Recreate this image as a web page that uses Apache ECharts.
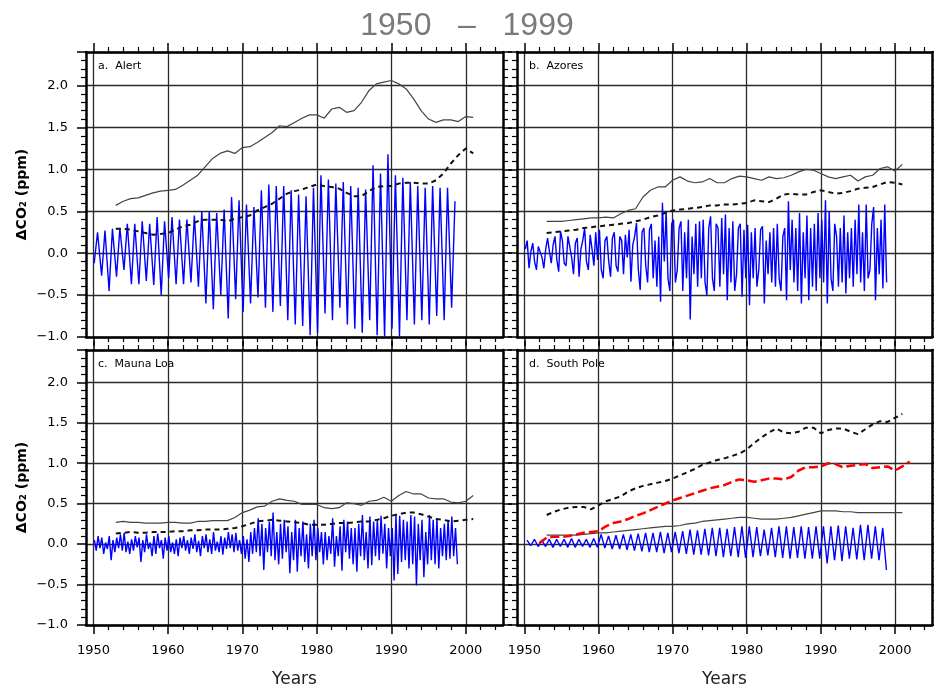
<!DOCTYPE html>
<html><head><meta charset="utf-8">
<script src="https://cdn.jsdelivr.net/npm/echarts@6/dist/echarts.min.js"></script>
<style>html,body{margin:0;padding:0;background:#fff}#c{width:934px;height:689px}</style>
</head><body><div id="c"></div>
<script>
// ---------- DATA ----------
const xTickYears = [1950, 1960, 1970, 1980, 1990, 2000];
const panelLabels = ['a.  Alert', 'b.  Azores', 'c.  Mauna Loa', 'd.  South Pole'];

const annualYears = [1953,1954,1955,1956,1957,1958,1959,1960,1961,1962,1963,1964,1965,1966,1967,1968,1969,1970,1971,1972,1973,1974,1975,1976,1977,1978,1979,1980,1981,1982,1983,1984,1985,1986,1987,1988,1989,1990,1991,1992,1993,1994,1995,1996,1997,1998,1999,2000,2001];
const redYears = [1952,1953,1954,1955,1956,1957,1958,1959,1960,1961,1962,1963,1964,1965,1966,1967,1968,1969,1970,1971,1972,1973,1974,1975,1976,1977,1978,1979,1980,1981,1982,1983,1984,1985,1986,1987,1988,1989,1990,1991,1992,1993,1994,1995,1996,1997,1998,1999,2000,2001,2002];
const seasonYears = [1950,1951,1952,1953,1954,1955,1956,1957,1958,1959,1960,1961,1962,1963,1964,1965,1966,1967,1968,1969,1970,1971,1972,1973,1974,1975,1976,1977,1978,1979,1980,1981,1982,1983,1984,1985,1986,1987,1988,1989,1990,1991,1992,1993,1994,1995,1996,1997,1998];
const quarterFrac = [0.125, 0.375, 0.625, 0.875];

// a. Alert
const alertSolid = [0.57,0.62,0.65,0.66,0.69,0.72,0.74, 0.75,0.76,0.81,0.87,0.93,1.03,1.13,1.19,1.22,1.19, 1.26,1.27,1.32,1.38,1.44,1.52,1.51,1.56,1.61,1.65, 1.65,1.61,1.72,1.74,1.68,1.70,1.80,1.94,2.02,2.04, 2.06,2.02,1.96,1.84,1.70,1.60,1.56,1.59,1.59,1.57, 1.63,1.62];
const alertDashed = [0.29,0.29,0.28,0.26,0.24,0.22,0.23, 0.24,0.28,0.32,0.34,0.38,0.40,0.40,0.40,0.38,0.41, 0.43,0.45,0.51,0.55,0.59,0.65,0.71,0.74,0.76,0.79, 0.82,0.80,0.79,0.77,0.72,0.68,0.68,0.74,0.79,0.80, 0.80,0.83,0.84,0.84,0.83,0.83,0.87,0.95,1.07,1.17, 1.25,1.19];
const alertTrough = [-0.12,-0.27,-0.45,-0.28,-0.20,-0.37,-0.37,-0.33,-0.38,-0.50, -0.30,-0.37,-0.37,-0.35,-0.40,-0.60,-0.67,-0.50,-0.78,-0.55, -0.70,-0.60,-0.53,-0.65,-0.70,-0.63,-0.80,-0.85,-0.87,-0.98, -0.95,-0.72,-0.80,-0.65,-0.85,-0.90,-0.95,-0.80,-0.98,-1.00, -0.90,-0.99,-0.80,-0.85,-0.80,-0.85,-0.75,-0.80,-0.65];
const alertPeak = [0.25,0.27,0.29,0.30,0.35,0.35,0.38,0.35,0.43,0.38, 0.43,0.40,0.40,0.45,0.50,0.50,0.48,0.52,0.67,0.63, 0.58,0.55,0.75,0.82,0.80,0.80,0.75,0.70,0.68,0.78, 0.93,0.88,0.83,0.85,0.80,0.78,0.76,1.05,0.95,1.18, 0.93,0.90,0.85,0.80,0.78,0.80,0.78,0.78,0.62];

// b. Azores
const azoresSolid = [0.38,0.38,0.38,0.39,0.40,0.41,0.42, 0.42,0.43,0.42,0.47,0.51,0.53,0.67,0.75,0.79,0.79, 0.87,0.91,0.86,0.84,0.85,0.89,0.84,0.84,0.89,0.92, 0.91,0.89,0.87,0.91,0.89,0.90,0.93,0.97,1.00,0.99, 0.95,0.91,0.89,0.91,0.93,0.86,0.91,0.93,1.01,1.03, 0.98,1.06];
const azoresDashed = [0.24,0.25,0.26,0.27,0.28,0.30,0.31, 0.32,0.33,0.34,0.35,0.36,0.38,0.40,0.43,0.45,0.48, 0.51,0.52,0.53,0.54,0.55,0.57,0.57,0.58,0.58,0.59, 0.60,0.63,0.62,0.61,0.65,0.70,0.71,0.70,0.70,0.73, 0.75,0.73,0.71,0.72,0.74,0.77,0.78,0.79,0.82,0.85, 0.84,0.82];
const azoresQuarterly = [
 0.05,0.15,-0.18,0.02, 0.12,-0.10,-0.20,0.08, 0.10,-0.05,-0.18,0.05, 0.18,0.02,-0.12,0.10, 0.20,-0.08,-0.22,0.26,
 0.15,-0.12,-0.15,0.20, 0.22,-0.05,-0.25,0.12, 0.18,-0.28,0.05,0.15, 0.30,-0.10,-0.20,0.22, 0.05,-0.15,0.25,-0.08,
 0.28,-0.20,-0.30,0.15, 0.20,-0.10,-0.28,0.18, 0.25,-0.15,-0.22,0.20, 0.15,-0.25,0.22,-0.05, 0.28,-0.34,0.10,0.20,
 0.36,-0.20,-0.44,0.25, 0.30,-0.15,-0.35,0.28, 0.35,-0.30,0.15,-0.40, 0.20,-0.58,0.60,-0.10, 0.50,-0.30,-0.45,0.35,
 0.40,-0.35,-0.20,0.30, 0.38,-0.45,0.25,-0.30, 0.40,-0.79,0.20,-0.25, 0.35,-0.40,0.38,-0.30, 0.40,-0.35,-0.50,0.30,
 0.44,-0.30,-0.45,0.35, 0.30,-0.40,0.42,-0.25, 0.46,-0.56,0.30,-0.35, 0.38,-0.45,-0.25,0.30, 0.35,-0.52,0.28,-0.30,
 0.34,-0.62,0.25,-0.30, 0.30,-0.40,-0.20,0.28, 0.32,-0.60,0.15,-0.25, 0.25,-0.35,0.30,-0.40, 0.35,-0.30,-0.45,0.20,
 0.30,-0.56,0.62,-0.20, 0.40,-0.35,0.30,-0.45, 0.48,-0.60,0.25,-0.30, 0.45,-0.56,0.30,-0.40, 0.35,-0.45,0.48,-0.30,
 0.40,-0.35,0.63,-0.60, 0.50,-0.30,-0.45,0.35, 0.20,-0.40,0.30,-0.35, 0.45,-0.48,0.25,-0.30, 0.30,-0.40,0.40,-0.25,
 0.58,-0.35,0.25,-0.45, 0.58,-0.30,-0.20,0.35, 0.55,-0.56,0.30,-0.25, 0.40,-0.42,0.58,-0.35];

// c. Mauna Loa
const maunaSolid = [0.27,0.28,0.27,0.27,0.26,0.26,0.26, 0.27,0.27,0.26,0.26,0.28,0.28,0.29,0.29,0.29,0.33, 0.39,0.42,0.46,0.47,0.53,0.56,0.54,0.53,0.49,0.49, 0.49,0.45,0.44,0.45,0.51,0.50,0.48,0.53,0.54,0.58, 0.53,0.60,0.65,0.62,0.62,0.57,0.56,0.56,0.52,0.51, 0.53,0.60];
const maunaDashed = [0.13,0.14,0.15,0.14,0.14,0.15,0.15, 0.15,0.16,0.16,0.17,0.17,0.18,0.18,0.18,0.19,0.20, 0.22,0.25,0.28,0.29,0.30,0.29,0.28,0.27,0.26,0.24, 0.24,0.24,0.25,0.26,0.26,0.27,0.28,0.28,0.30,0.32, 0.35,0.37,0.39,0.39,0.37,0.34,0.31,0.30,0.28,0.29, 0.30,0.31];
const maunaQuarterly = [
 0.05,-0.08,0.10,-0.05, 0.08,-0.12,0.02,-0.06, 0.10,-0.20,0.05,-0.10, 0.08,-0.05,0.12,-0.08, 0.14,-0.10,0.03,-0.12,
 0.06,-0.08,0.10,-0.04, 0.08,-0.22,0.05,-0.10, 0.12,-0.06,0.02,-0.15, 0.10,-0.12,0.13,-0.05, 0.05,-0.18,0.08,-0.08,
 0.10,-0.10,0.02,-0.12, 0.06,-0.15,0.08,-0.05, 0.10,-0.08,0.05,-0.12, 0.08,-0.06,0.12,-0.10, 0.04,-0.15,0.10,-0.05,
 0.12,-0.10,0.06,-0.12, 0.15,-0.08,0.03,-0.10, 0.10,-0.13,0.08,-0.06, 0.15,-0.05,0.12,-0.10, 0.14,-0.08,0.05,-0.12,
 0.10,-0.18,0.06,-0.22, 0.15,-0.12,0.20,-0.10, 0.32,-0.15,0.25,-0.32, 0.20,-0.10,0.28,-0.15, 0.39,-0.20,0.15,-0.25,
 0.25,-0.18,0.30,-0.10, 0.22,-0.36,0.15,-0.20, 0.30,-0.34,0.20,-0.15, 0.28,-0.22,0.12,-0.30, 0.25,-0.15,0.30,-0.20,
 0.20,-0.10,0.15,-0.25, 0.15,-0.20,0.10,-0.12, 0.32,-0.28,0.10,-0.15, 0.22,-0.33,0.30,-0.10, 0.28,-0.18,0.20,-0.25,
 0.20,-0.34,0.25,-0.15, 0.36,-0.20,0.15,-0.30, 0.34,-0.26,0.28,-0.15, 0.30,-0.20,0.35,-0.12, 0.25,-0.30,0.20,-0.15,
 0.20,-0.45,0.36,-0.37, 0.35,-0.22,0.30,-0.20, 0.28,-0.30,0.36,-0.25, 0.34,-0.51,0.25,-0.20, 0.30,-0.41,0.15,-0.25,
 0.36,-0.20,0.30,-0.25, 0.32,-0.30,0.20,-0.15, 0.25,-0.20,0.30,-0.18, 0.34,-0.15,0.20,-0.25];

// d. South Pole
const southSolid = [0.11,0.11,0.11,0.11,0.11,0.12,0.13, 0.14,0.14,0.15,0.16,0.17,0.18,0.19,0.20,0.21,0.22, 0.22,0.23,0.25,0.26,0.28,0.29,0.30,0.31,0.32,0.33, 0.33,0.32,0.31,0.31,0.31,0.32,0.33,0.35,0.37,0.39, 0.41,0.41,0.41,0.40,0.40,0.39,0.39,0.39,0.39,0.39, 0.39,0.39];
const southDashed = [0.36,0.40,0.43,0.45,0.46,0.46,0.43, 0.48,0.53,0.56,0.59,0.65,0.69,0.72,0.74,0.76,0.78, 0.81,0.85,0.89,0.93,0.98,1.01,1.04,1.06,1.09,1.12, 1.17,1.25,1.32,1.38,1.43,1.38,1.37,1.39,1.44,1.44, 1.37,1.41,1.43,1.43,1.39,1.36,1.42,1.48,1.52,1.51, 1.56,1.61];
const southRed = [0.01,0.08,0.09,0.09,0.10,0.12,0.14,0.15, 0.16,0.22,0.26,0.28,0.31,0.35,0.38,0.42,0.46,0.50, 0.54,0.57,0.60,0.63,0.66,0.69,0.71,0.73,0.77,0.80, 0.79,0.77,0.79,0.81,0.81,0.80,0.83,0.91,0.95,0.95, 0.96,1.00,0.99,0.95,0.97,0.98,0.99,0.94,0.95,0.96, 0.91,0.96,1.02];
const southPeak = [0.05,0.06,0.05,0.06,0.06,0.06,0.07,0.06,0.06,0.07, 0.12,0.10,0.11,0.12,0.12,0.13,0.14,0.14,0.15,0.14, 0.15,0.16,0.18,0.17,0.19,0.20,0.20,0.19,0.21,0.22, 0.22,0.21,0.18,0.20,0.22,0.22,0.21,0.22,0.21,0.22, 0.22,0.22,0.23,0.22,0.20,0.24,0.24,0.22,0.20];
const southTrough = [-0.02,-0.03,-0.03,-0.04,-0.03,-0.04,-0.04,-0.03,-0.04,-0.04, -0.05,-0.06,-0.06,-0.07,-0.08,-0.09,-0.10,-0.10,-0.11,-0.10, -0.11,-0.12,-0.13,-0.13,-0.14,-0.15,-0.16,-0.15,-0.16,-0.17, -0.16,-0.15,-0.14,-0.16,-0.17,-0.18,-0.17,-0.18,-0.18,-0.18, -0.24,-0.20,-0.21,-0.18,-0.19,-0.20,-0.18,-0.20,-0.32];

// ---------- BUILD ----------
function pairs(xs, ys) { return ys.map((v, i) => [xs[i], v]); }
function zig(first, second, f1, f2) {
  const out = [];
  seasonYears.forEach((y, i) => { out.push([y + f1, first[i]]); out.push([y + f2, second[i]]); });
  return out;
}
function quarterly(vals) {
  const out = [];
  seasonYears.forEach((y, i) => quarterFrac.forEach((f, q) => out.push([y + f, vals[i * 4 + q]])));
  return out;
}

const grids = [
  { left: 86, top: 52, width: 417, height: 285 },
  { left: 517, top: 52, width: 415, height: 285 },
  { left: 86, top: 350, width: 417, height: 285 },
  { left: 517, top: 350, width: 415, height: 285 }
];

const FONT = 'DejaVu Sans, Liberation Sans, sans-serif';
const frameLine = { show: true, onZero: false, lineStyle: { color: '#000', width: 2.5 } };
const gridLine = { show: true, lineStyle: { color: '#2a2a2a', width: 1.3 } };

const xAxes = [], yAxes = [];
grids.forEach((g, i) => {
  const bottomRow = i >= 2, leftCol = i % 2 === 0;
  ['bottom', 'top'].forEach(pos => {
    xAxes.push({
      type: 'value', gridIndex: i, position: pos, min: 1949, max: 2005,
      axisLine: frameLine,
      axisTick: { show: true, length: 9, customValues: xTickYears, lineStyle: { color: '#000', width: 1.5 } },
      minorTick: { show: true, splitNumber: 5, length: 5, lineStyle: { color: '#000', width: 1.2 } },
      axisLabel: { show: pos === 'bottom' && bottomRow, customValues: xTickYears, margin: 19,
        fontSize: 13, color: '#000', fontFamily: FONT, formatter: v => String(v) },
      splitLine: pos === 'bottom' ? gridLine : { show: false },
      name: (pos === 'bottom' && bottomRow) ? 'Years' : '',
      nameLocation: 'middle', nameGap: 46,
      nameTextStyle: { fontSize: 17, color: '#222', fontFamily: FONT }
    });
  });
  ['left', 'right'].forEach(pos => {
    yAxes.push({
      type: 'value', gridIndex: i, position: pos, min: -1, max: 2.4, interval: 0.5,
      axisLine: frameLine,
      axisTick: { show: true, length: 9, lineStyle: { color: '#000', width: 1.5 } },
      minorTick: { show: true, splitNumber: 5, length: 5, lineStyle: { color: '#000', width: 1.2 } },
      axisLabel: { show: pos === 'left' && leftCol, margin: 18, fontSize: 13, color: '#000', fontFamily: FONT,
        showMaxLabel: false,
        formatter: v => (v > 2.35 ? '' : (v < 0 ? '\u2212' : '') + Math.abs(v).toFixed(1)) },
      splitLine: pos === 'left' ? gridLine : { show: false },
      name: (pos === 'left' && leftCol) ? 'ΔCO₂ (ppm)' : '',
      nameLocation: 'middle', nameGap: 57,
      nameTextStyle: { fontSize: 14, fontWeight: 'bold', color: '#000', fontFamily: FONT }
    });
  });
});

const blueStyle = { color: '#0000ff', width: 1.4 };
const solidStyle = { color: '#444', width: 1.2 };
const dashStyle = { color: '#111', width: 2, type: [5, 4] };
const redStyle = { color: '#ff0000', width: 2.5, type: [9, 4] };

function line(i, data, style, z) {
  return { type: 'line', xAxisIndex: i * 2, yAxisIndex: i * 2, data, showSymbol: false,
    lineStyle: style, itemStyle: { color: style.color }, z, silent: true, animation: false };
}

const series = [
  line(0, zig(alertTrough, alertPeak, 0.1, 0.55), blueStyle, 2),
  line(0, pairs(annualYears, alertSolid), solidStyle, 3),
  line(0, pairs(annualYears, alertDashed), dashStyle, 4),
  line(1, quarterly(azoresQuarterly), blueStyle, 2),
  line(1, pairs(annualYears, azoresSolid), solidStyle, 3),
  line(1, pairs(annualYears, azoresDashed), dashStyle, 4),
  line(2, quarterly(maunaQuarterly), blueStyle, 2),
  line(2, pairs(annualYears, maunaSolid), solidStyle, 3),
  line(2, pairs(annualYears, maunaDashed), dashStyle, 4),
  line(3, zig(southPeak, southTrough, 0.35, 0.85), blueStyle, 2),
  line(3, pairs(annualYears, southSolid), solidStyle, 3),
  line(3, pairs(annualYears, southDashed), dashStyle, 4),
  line(3, pairs(redYears, southRed), redStyle, 5)
];

const titles = [{ text: '1950   \u2013   1999', left: 'center', top: 5,
  textStyle: { fontSize: 32, fontWeight: 'normal', color: '#7a7a7a', fontFamily: 'Liberation Sans, Arial, sans-serif' } }];
panelLabels.forEach((t, i) => titles.push({ text: t, left: grids[i].left + 7, top: grids[i].top + 4,
  textStyle: { fontSize: 11, fontWeight: 'normal', color: '#000', fontFamily: FONT } }));

const chart = echarts.init(document.getElementById('c'), null, { renderer: 'canvas' });
chart.setOption({ animation: false, backgroundColor: '#fff', title: titles, grid: grids,
  xAxis: xAxes, yAxis: yAxes, series });
</script></body></html>
